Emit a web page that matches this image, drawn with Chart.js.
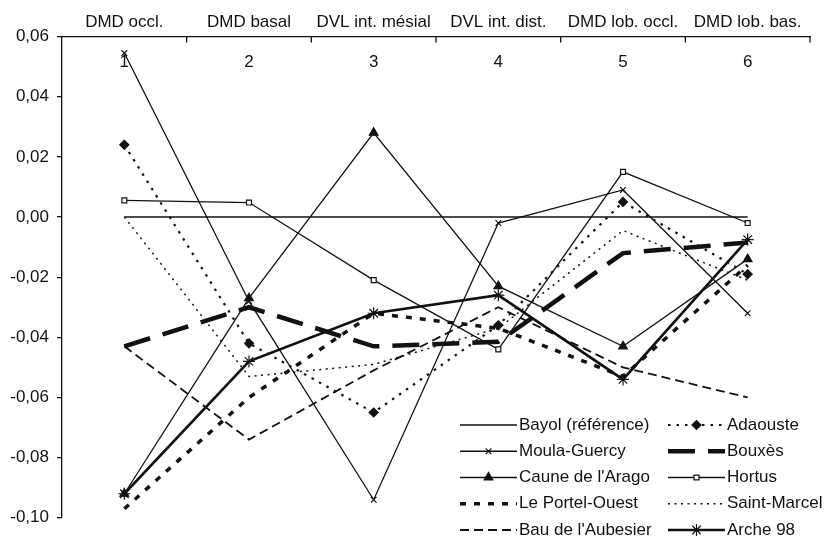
<!DOCTYPE html>
<html>
<head>
<meta charset="utf-8">
<script src="https://cdn.jsdelivr.net/npm/chart.js@4/dist/chart.umd.min.js"></script>
<style>
  body { margin: 0; background: #fff; }
  #wrap { width: 830px; height: 536px; }
</style>
</head>
<body>
<div id="wrap"><canvas id="chart" width="830" height="536"></canvas></div>
<script>
// categories (top axis) and the numbers written under them
const categories = ['DMD occl.', 'DMD basal', 'DVL int. mésial', 'DVL int. dist.', 'DMD lob. occl.', 'DMD lob. bas.'];
const catNumbers = ['1', '2', '3', '4', '5', '6'];

// series values
const bayol    = [0, 0, 0, 0, 0, 0];
const adaouste = [0.024, -0.042, -0.065, -0.036, 0.005, -0.019];
const moula    = [0.0545, -0.028, -0.094, -0.002, 0.009, -0.032];
const bouxes   = [-0.043, -0.030, -0.043, -0.0415, -0.012, -0.0085];
const caune    = [-0.092, -0.027, 0.028, -0.023, -0.043, -0.014];
const hortus   = [0.0055, 0.0048, -0.021, -0.044, 0.015, -0.002];
const portel   = [-0.097, -0.060, -0.032, -0.037, -0.053, -0.016];
const stMarcel = [0, -0.053, -0.049, -0.037, -0.0045, -0.021];
const bau      = [-0.043, -0.074, -0.051, -0.030, -0.050, -0.060];
const arche    = [-0.092, -0.048, -0.032, -0.026, -0.054, -0.0075];

// y axis range / ticks
const yMin = -0.1;
const yMax = 0.06;
const yStep = 0.02;

const INK = '#111';
const FONT = "'Liberation Sans', Arial, sans-serif";

function series(label, data, opts) {
    return Object.assign({
        label: label,
        data: data,
        borderColor: INK,
        backgroundColor: INK,
        borderWidth: 1.3,
        pointRadius: 0,
        pointBorderWidth: 1.2,
        pointBorderColor: INK,
        pointBackgroundColor: INK,
        tension: 0,
        fill: false
    }, opts);
}

const datasets = [
    series('Bayol (référence)', bayol, {}),
    series('Adaouste', adaouste, { borderWidth: 2.2, borderDash: [2.5, 6], pointStyle: 'rectRot', pointRadius: 4.5 }),
    series('Moula-Guercy', moula, { pointStyle: 'crossRot', pointRadius: 4 }),
    series('Bouxès', bouxes, { borderWidth: 4.5, borderDash: [27, 13] }),
    series("Caune de l'Arago", caune, { pointStyle: 'triangle', pointRadius: 5 }),
    series('Hortus', hortus, { pointStyle: 'rect', pointRadius: 3.5, pointBackgroundColor: '#fff' }),
    series('Le Portel-Ouest', portel, { borderWidth: 3.5, borderDash: [6, 8] }),
    series('Saint-Marcel', stMarcel, { borderWidth: 1.5, borderDash: [2, 4.5] }),
    series("Bau de l'Aubesier", bau, { borderWidth: 1.8, borderDash: [9, 5] }),
    series('Arche 98', arche, { borderWidth: 2.6, pointStyle: 'star', pointRadius: 6 })
];

// numbers, inward top ticks and the two-column legend
const extras = {
    id: 'extras',
    beforeDatasetsDraw(chart) {
        const { ctx, chartArea } = chart;
        const x = chart.scales.x;
        ctx.save();
        ctx.fillStyle = INK;
        ctx.font = '17px ' + FONT;
        ctx.textAlign = 'center';
        ctx.textBaseline = 'middle';
        catNumbers.forEach((n, i) => ctx.fillText(n, x.getPixelForTick(i), chartArea.top + 26));
        ctx.restore();
    },
    afterDraw(chart) {
        const { ctx, chartArea } = chart;
        const x = chart.scales.x;
        ctx.save();
        ctx.strokeStyle = INK;
        ctx.lineWidth = 1.3;
        for (let i = 0; i < categories.length; i++) {
            const bx = i < categories.length - 1
                ? (x.getPixelForTick(i) + x.getPixelForTick(i + 1)) / 2
                : chartArea.right;
            ctx.beginPath();
            ctx.moveTo(bx, chartArea.top);
            ctx.lineTo(bx, chartArea.top + 6);
            ctx.stroke();
        }

        // legend
        const colX = [460, 668];
        const lineLen = 57;
        const row0 = 425, rowH = 26.25;
        ctx.font = '17px ' + FONT;
        ctx.textAlign = 'left';
        ctx.textBaseline = 'middle';
        chart.data.datasets.forEach((ds, i) => {
            const lx = colX[i % 2];
            const ly = row0 + Math.floor(i / 2) * rowH;
            ctx.setLineDash(ds.borderDash || []);
            ctx.lineWidth = ds.borderWidth;
            ctx.strokeStyle = INK;
            ctx.beginPath();
            ctx.moveTo(lx, ly);
            ctx.lineTo(lx + lineLen, ly);
            ctx.stroke();
            ctx.setLineDash([]);
            if (ds.pointRadius > 0 && Chart.helpers && Chart.helpers.drawPoint) {
                ctx.fillStyle = ds.pointBackgroundColor;
                ctx.strokeStyle = INK;
                ctx.lineWidth = ds.pointBorderWidth;
                Chart.helpers.drawPoint(ctx, {
                    pointStyle: ds.pointStyle,
                    radius: ds.pointRadius,
                    rotation: 0,
                    borderWidth: ds.pointBorderWidth
                }, lx + lineLen / 2, ly);
            }
            ctx.fillStyle = INK;
            ctx.fillText(ds.label, lx + lineLen + 2, ly);
        });
        ctx.restore();
    }
};

new Chart(document.getElementById('chart'), {
    type: 'line',
    data: { labels: categories, datasets: datasets },
    plugins: [extras],
    options: {
        responsive: false,
        animation: false,
        layout: { padding: { left: 0, top: 0, right: 20, bottom: 11 } },
        plugins: {
            legend: { display: false },
            tooltip: { enabled: false }
        },
        scales: {
            x: {
                position: 'top',
                offset: true,
                grid: { display: false, drawTicks: false },
                border: { display: true, color: INK, width: 1.3 },
                ticks: {
                    autoSkip: false,
                    maxRotation: 0,
                    padding: 4,
                    color: INK,
                    font: { family: FONT, size: 17 }
                },
                afterFit(scale) { scale.height = 36.5; }
            },
            y: {
                min: yMin,
                max: yMax,
                grid: { drawOnChartArea: false, drawTicks: true, tickLength: 5, color: INK, lineWidth: 1.3 },
                border: { display: true, color: INK, width: 1.3 },
                ticks: {
                    stepSize: yStep,
                    padding: 8,
                    color: INK,
                    font: { family: FONT, size: 17 },
                    callback: v => Math.abs(v) < 1e-9 ? '0,00' : v.toFixed(2).replace('.', ',')
                },
                afterFit(scale) { scale.width = 62; }
            }
        }
    }
});
</script>
</body>
</html>
